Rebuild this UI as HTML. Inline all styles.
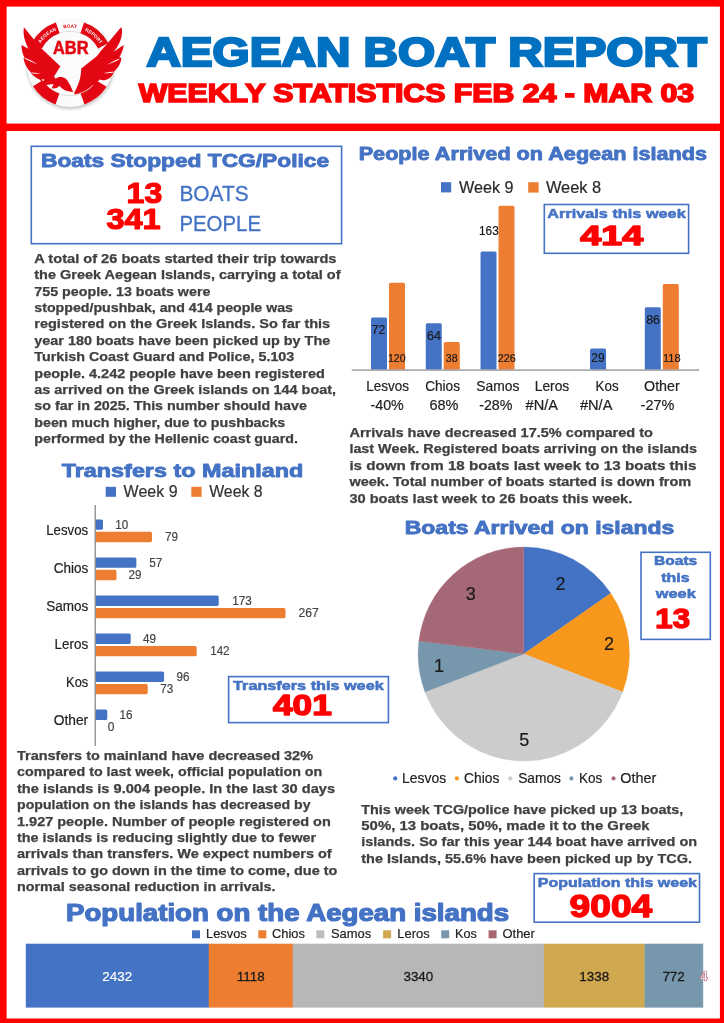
<!DOCTYPE html>
<html><head><meta charset="utf-8"><title>Aegean Boat Report</title><style>
html,body{margin:0;padding:0;background:#fff}
#p{position:relative;width:724px;height:1023px;overflow:hidden;background:#fff;font-family:"Liberation Sans",sans-serif}
#p div{position:absolute}
#p svg{position:absolute;left:0;top:0}
#p text{font-family:"Liberation Sans",sans-serif;white-space:pre}
</style></head><body><div id="p"><svg width="724" height="1023" viewBox="0 0 724 1023" style="position:absolute;left:0;top:0"><rect x="0.00" y="0.00" width="724.00" height="6.60" fill="#ff0000"/><rect x="0.00" y="0.00" width="6.60" height="1023.00" fill="#ff0000"/><rect x="719.90" y="0.00" width="4.10" height="1023.00" fill="#ff0000"/><rect x="0.00" y="1018.50" width="724.00" height="4.50" fill="#ff0000"/><rect x="0.00" y="123.60" width="724.00" height="7.40" fill="#ff0000"/><path d="M371.00,369.60V319.04Q371.00,317.44 372.60,317.44H385.40Q387.00,317.44 387.00,319.04V369.60Z" fill="#4472c4"/><path d="M389.00,369.60V284.26Q389.00,282.66 390.60,282.66H403.40Q405.00,282.66 405.00,284.26V369.60Z" fill="#ed7d31"/><path d="M425.76,369.60V324.83Q425.76,323.23 427.36,323.23H440.16Q441.76,323.23 441.76,324.83V369.60Z" fill="#4472c4"/><path d="M443.76,369.60V343.67Q443.76,342.07 445.36,342.07H458.16Q459.76,342.07 459.76,343.67V369.60Z" fill="#ed7d31"/><path d="M480.52,369.60V253.11Q480.52,251.51 482.12,251.51H494.92Q496.52,251.51 496.52,253.11V369.60Z" fill="#4472c4"/><path d="M498.52,369.60V207.46Q498.52,205.86 500.12,205.86H512.92Q514.52,205.86 514.52,207.46V369.60Z" fill="#ed7d31"/><path d="M590.04,369.60V350.19Q590.04,348.59 591.64,348.59H604.44Q606.04,348.59 606.04,350.19V369.60Z" fill="#4472c4"/><path d="M644.80,369.60V308.89Q644.80,307.29 646.40,307.29H659.20Q660.80,307.29 660.80,308.89V369.60Z" fill="#4472c4"/><path d="M662.80,369.60V285.71Q662.80,284.11 664.40,284.11H677.20Q678.80,284.11 678.80,285.71V369.60Z" fill="#ed7d31"/><rect x="351.70" y="369.50" width="347.50" height="1.10" fill="#7f7f7f"/><rect x="441.00" y="182.20" width="10.20" height="10.20" fill="#4472c4"/><rect x="528.20" y="182.20" width="10.40" height="10.40" fill="#ed7d31"/><path d="M95.60,519.40H101.40Q103.00,519.40 103.00,521.00V528.20Q103.00,529.80 101.40,529.80H95.60Z" fill="#4472c4"/><path d="M95.60,531.80H150.39Q151.99,531.80 151.99,533.40V540.60Q151.99,542.20 150.39,542.20H95.60Z" fill="#ed7d31"/><path d="M95.60,557.44H134.77Q136.37,557.44 136.37,559.04V566.24Q136.37,567.84 134.77,567.84H95.60Z" fill="#4472c4"/><path d="M95.60,569.84H114.89Q116.49,569.84 116.49,571.44V578.64Q116.49,580.24 114.89,580.24H95.60Z" fill="#ed7d31"/><path d="M95.60,595.48H217.13Q218.73,595.48 218.73,597.08V604.28Q218.73,605.88 217.13,605.88H95.60Z" fill="#4472c4"/><path d="M95.60,607.88H283.87Q285.47,607.88 285.47,609.48V616.68Q285.47,618.28 283.87,618.28H95.60Z" fill="#ed7d31"/><path d="M95.60,633.52H129.09Q130.69,633.52 130.69,635.12V642.32Q130.69,643.92 129.09,643.92H95.60Z" fill="#4472c4"/><path d="M95.60,645.92H195.12Q196.72,645.92 196.72,647.52V654.72Q196.72,656.32 195.12,656.32H95.60Z" fill="#ed7d31"/><path d="M95.60,671.56H162.46Q164.06,671.56 164.06,673.16V680.36Q164.06,681.96 162.46,681.96H95.60Z" fill="#4472c4"/><path d="M95.60,683.96H146.13Q147.73,683.96 147.73,685.56V692.76Q147.73,694.36 146.13,694.36H95.60Z" fill="#ed7d31"/><path d="M95.60,709.60H105.66Q107.26,709.60 107.26,711.20V718.40Q107.26,720.00 105.66,720.00H95.60Z" fill="#4472c4"/><rect x="94.60" y="505.00" width="1.20" height="241.00" fill="#7f7f7f"/><rect x="105.70" y="486.80" width="10.30" height="10.00" fill="#4472c4"/><rect x="191.30" y="486.80" width="10.30" height="10.00" fill="#ed7d31"/><rect x="25.80" y="943.70" width="183.19" height="63.90" fill="#4472c4"/><rect x="208.69" y="943.70" width="84.37" height="63.90" fill="#ed7d31"/><rect x="292.76" y="943.70" width="251.47" height="63.90" fill="#b7b7b7"/><rect x="543.93" y="943.70" width="100.92" height="63.90" fill="#d0a850"/><rect x="644.54" y="943.70" width="58.35" height="63.90" fill="#7697ac"/><rect x="702.60" y="943.70" width="0.60" height="63.90" fill="#7697ac"/><rect x="192.00" y="930.30" width="8.00" height="8.00" fill="#4472c4"/><rect x="258.30" y="930.30" width="8.00" height="8.00" fill="#ed7d31"/><rect x="316.30" y="930.30" width="8.00" height="8.00" fill="#bdbdbd"/><rect x="383.10" y="930.30" width="8.00" height="8.00" fill="#d0a850"/><rect x="441.20" y="930.30" width="8.00" height="8.00" fill="#7697ac"/><rect x="488.60" y="930.30" width="8.00" height="8.00" fill="#a8646f"/><rect x="31.30" y="146.30" width="310.30" height="97.40" fill="#fff" stroke="#4472c4" stroke-width="1.6"/><rect x="544.30" y="204.50" width="144.30" height="48.80" fill="#fff" stroke="#4472c4" stroke-width="1.6"/><rect x="228.60" y="676.60" width="159.80" height="46.00" fill="#fff" stroke="#4472c4" stroke-width="1.6"/><rect x="641.00" y="552.30" width="69.30" height="87.10" fill="#fff" stroke="#4472c4" stroke-width="1.6"/><rect x="534.20" y="873.60" width="165.30" height="48.60" fill="#fff" stroke="#4472c4" stroke-width="1.6"/><path d="M523.8,654.0L523.80,547.00A105.7,107.0 0 0 1 610.79,593.22Z" fill="#4472c4" stroke="#4472c4" stroke-width="0.3"/><path d="M523.8,654.0L610.79,593.22A105.7,107.0 0 0 1 622.63,691.94Z" fill="#f7981d" stroke="#f7981d" stroke-width="0.3"/><path d="M523.8,654.0L622.63,691.94A105.7,107.0 0 0 1 424.97,691.94Z" fill="#cccccc" stroke="#cccccc" stroke-width="0.3"/><path d="M523.8,654.0L424.97,691.94A105.7,107.0 0 0 1 418.87,641.10Z" fill="#7697ac" stroke="#7697ac" stroke-width="0.3"/><path d="M523.8,654.0L418.87,641.10A105.7,107.0 0 0 1 523.80,547.00Z" fill="#a56877" stroke="#a56877" stroke-width="0.3"/><circle cx="395.2" cy="778.4" r="2.1" fill="#4472c4"/><circle cx="456.9" cy="778.4" r="2.1" fill="#f7981d"/><circle cx="510.2" cy="778.4" r="2.1" fill="#cccccc"/><circle cx="571.4" cy="778.4" r="2.1" fill="#7697ac"/><circle cx="613.5" cy="778.4" r="2.1" fill="#a56877"/><g opacity="0.999"><defs><filter id="sh" x="-20%" y="-20%" width="140%" height="140%"><feGaussianBlur stdDeviation="1.5"/></filter><path id="arcT" d="M34.20,63.50A35.8,35.8 0 0 1 105.80,63.50"/></defs><circle cx="70.4" cy="65.1" r="44.199999999999996" fill="#000" opacity="0.20" filter="url(#sh)"/><circle cx="70.0" cy="63.5" r="43.4" fill="#fbfbfb"/><circle cx="70.0" cy="63.5" r="32.199999999999996" fill="none" stroke="#d9d9d9" stroke-width="0.9"/><path d="M84.13,22.46A43.4,43.4 0 0 1 108.32,43.12L98.17,48.52A31.9,31.9 0 0 0 80.39,33.34Z" fill="#e30613"/><path d="M106.60,86.82A43.4,43.4 0 0 1 84.49,104.41L80.65,93.57A31.9,31.9 0 0 0 96.90,80.64Z" fill="#e30613"/><path d="M55.51,104.41A43.4,43.4 0 0 1 33.00,86.18L42.80,80.17A31.9,31.9 0 0 0 59.35,93.57Z" fill="#e30613"/><path d="M31.68,43.12A43.4,43.4 0 0 1 55.87,22.46L59.61,33.34A31.9,31.9 0 0 0 41.83,48.52Z" fill="#e30613"/><path d="M23.9,27.2 C23.2,31.5 23.6,36 24.9,40 C25.8,43.2 27,46.2 28.4,48.7 L21.5,45.1 C21.4,47.2 21.6,49.2 22.1,51 C22.6,53.4 23.3,55.5 24.4,57.6 L23.5,58.3 C24.2,63 26.6,68.4 31,72.6 L30.8,72.8 C32,74.4 33.2,75.6 34.6,76.6 C36.2,77.8 37.8,78.8 39.5,79.5 L42.9,82.4 L45.8,84.9 L53.7,84 L51.6,88.3 C53.4,88.5 55.2,88.3 56.6,87.9 C57.8,87.4 58.8,86.6 59.5,85.8 C60.6,87.2 61.8,88.4 63.2,89.2 C64.8,90.2 66.4,90.9 68.2,91.3 C69.8,91.7 71.6,92 73.1,92.1 C72.8,91 72.4,90 71.9,89 C71.2,87 70.2,85 69,83.2 C68,81.4 67,79.8 65.7,78.6 C64.2,77.6 62.4,77 60.7,77 C59.6,77 58.6,77.2 57.8,77.4 C56.8,77.8 56,78.4 55.3,78.6 C54.8,78 54.4,77.2 54.1,76.6 C54.8,75.2 55.6,73.8 56.6,72.4 L60.3,66.2 L41.5,48.6 L33.5,38.9 Z" fill="#e30613"/><path d="M121.2,26.9 C122.2,29.2 122.2,31.6 121.9,33.8 C121.6,37 120.8,40 119.4,42.8 C117.8,46.4 115.8,49.4 113.2,52.1 L123.6,44.9 C123.6,47 123,49.2 122.2,51.1 C121.6,53.4 120.6,55.4 119.4,57.3 L121.5,58 C120.8,63.4 118.2,68.2 114,71.7 C113.4,73.6 112.4,75.2 111.1,76.7 C109.4,78.4 107.4,79.4 105.3,80 C103.4,80.4 101.4,80.2 99.5,79.6 L98.1,81.2 L95.1,85.0 L92.3,85.6 A31.3,31.3 0 0 1 74.6,94.4 L74.2,92.5 C75.4,90.6 76.4,88.7 77.1,86.7 C78.6,83.4 79.8,80 80.4,76.7 C80.8,74 81,71.2 81.3,68.4 L97,56 L100.8,51.1 L109.1,41.4 Z" fill="#e30613"/><path d="M24.2,57.6 C28.6,59.4 33.4,61.8 38,64.5 C33.6,63 29,61 24.8,58.8 Z" fill="#fff"/><path d="M31.2,72.5 L41.2,73.3 C38,73.8 34.6,73.8 32,73.6 Z" fill="#fff"/><path d="M41.4,79.2 L44.6,79.5 L43.2,81.2 Z" fill="#fff"/><path d="M119.6,58.4 C115.4,60 111.2,62 106.9,64.7 C111.4,63.4 115.8,61.6 119,59.6 Z" fill="#fff"/><path d="M113.6,71.4 L103.6,73 C107,73.4 110.4,73.2 112.8,72.8 Z" fill="#fff"/><text font-family="Liberation Sans, sans-serif" font-weight="bold" font-size="4.7" fill="#fff" letter-spacing="0.15"><textPath href="#arcT" startOffset="19%">AEGEAN</textPath></text><text font-family="Liberation Sans, sans-serif" font-weight="bold" font-size="4.7" fill="#e30613" letter-spacing="0.1"><textPath href="#arcT" startOffset="50%" text-anchor="middle">BOAT</textPath></text><text font-family="Liberation Sans, sans-serif" font-weight="bold" font-size="4.7" fill="#fff" letter-spacing="0.15"><textPath href="#arcT" startOffset="63.5%">REPORT</textPath></text></g><text opacity="0.999" x="703.8" y="980.8" font-family="Liberation Sans, sans-serif" font-size="14" font-weight="bold" fill="#fff" stroke="#bf6a7c" stroke-width="0.7" text-anchor="middle">4</text></svg><svg width="724" height="1023" viewBox="0 0 724 1023"><g opacity="0.999"><text y="66" font-size="41.3" fill="#0070c0" font-weight="bold" stroke="#0070c0" stroke-width="2.4" stroke-linejoin="miter" x="146.40" textLength="560.60" lengthAdjust="spacingAndGlyphs">AEGEAN BOAT REPORT</text><text y="102" font-size="25.6" fill="#ff0000" font-weight="bold" stroke="#ff0000" stroke-width="1.6" stroke-linejoin="miter" x="138.80" textLength="555.40" lengthAdjust="spacingAndGlyphs">WEEKLY STATISTICS FEB 24 - MAR 03</text><text y="54" font-size="17.6" fill="#e30613" font-weight="bold" stroke="#e30613" stroke-width="0.5" stroke-linejoin="round" x="53.00" textLength="35.60" lengthAdjust="spacingAndGlyphs">ABR</text><text y="167" font-size="19" fill="#4472c4" font-weight="bold" stroke="#4472c4" stroke-width="0.9" stroke-linejoin="round" x="41.00" textLength="288.10" lengthAdjust="spacingAndGlyphs">Boats Stopped TCG/Police</text><text y="203" font-size="28.8" fill="#ff0000" font-weight="bold" stroke="#ff0000" stroke-width="1.2" stroke-linejoin="round" x="126.60" textLength="35.60" lengthAdjust="spacingAndGlyphs">13</text><text y="229" font-size="29.8" fill="#ff0000" font-weight="bold" stroke="#ff0000" stroke-width="1.2" stroke-linejoin="round" x="106.40" textLength="54.20" lengthAdjust="spacingAndGlyphs">341</text><text y="201" font-size="21.6" fill="#4472c4" stroke="#4472c4" stroke-width="0.3" stroke-linejoin="round" x="179.40" textLength="69.20" lengthAdjust="spacingAndGlyphs">BOATS</text><text y="231" font-size="21.6" fill="#4472c4" stroke="#4472c4" stroke-width="0.3" stroke-linejoin="round" x="179.40" textLength="81.60" lengthAdjust="spacingAndGlyphs">PEOPLE</text><text y="263" font-size="12.4" fill="#404040" font-weight="bold" stroke="#404040" stroke-width="0.25" stroke-linejoin="round" x="34.30" textLength="302.20" lengthAdjust="spacingAndGlyphs">A total of 26 boats started their trip towards</text><text y="279" font-size="12.4" fill="#404040" font-weight="bold" stroke="#404040" stroke-width="0.25" stroke-linejoin="round" x="34.30" textLength="306.20" lengthAdjust="spacingAndGlyphs">the Greek Aegean Islands, carrying a total of</text><text y="296" font-size="12.4" fill="#404040" font-weight="bold" stroke="#404040" stroke-width="0.25" stroke-linejoin="round" x="34.30" textLength="176.10" lengthAdjust="spacingAndGlyphs">755 people. 13 boats were</text><text y="312" font-size="12.4" fill="#404040" font-weight="bold" stroke="#404040" stroke-width="0.25" stroke-linejoin="round" x="34.30" textLength="258.70" lengthAdjust="spacingAndGlyphs">stopped/pushbak, and 414 people was</text><text y="328" font-size="12.4" fill="#404040" font-weight="bold" stroke="#404040" stroke-width="0.25" stroke-linejoin="round" x="34.30" textLength="295.90" lengthAdjust="spacingAndGlyphs">registered on the Greek Islands. So far this</text><text y="345" font-size="12.4" fill="#404040" font-weight="bold" stroke="#404040" stroke-width="0.25" stroke-linejoin="round" x="34.30" textLength="295.90" lengthAdjust="spacingAndGlyphs">year 180 boats have been picked up by The</text><text y="361" font-size="12.4" fill="#404040" font-weight="bold" stroke="#404040" stroke-width="0.25" stroke-linejoin="round" x="34.30" textLength="260.00" lengthAdjust="spacingAndGlyphs">Turkish Coast Guard and Police, 5.103</text><text y="378" font-size="12.4" fill="#404040" font-weight="bold" stroke="#404040" stroke-width="0.25" stroke-linejoin="round" x="34.30" textLength="290.50" lengthAdjust="spacingAndGlyphs">people. 4.242 people have been registered</text><text y="394" font-size="12.4" fill="#404040" font-weight="bold" stroke="#404040" stroke-width="0.25" stroke-linejoin="round" x="34.30" textLength="301.70" lengthAdjust="spacingAndGlyphs">as arrived on the Greek islands on 144 boat,</text><text y="410" font-size="12.4" fill="#404040" font-weight="bold" stroke="#404040" stroke-width="0.25" stroke-linejoin="round" x="34.30" textLength="272.60" lengthAdjust="spacingAndGlyphs">so far in 2025. This number should have</text><text y="427" font-size="12.4" fill="#404040" font-weight="bold" stroke="#404040" stroke-width="0.25" stroke-linejoin="round" x="34.30" textLength="251.00" lengthAdjust="spacingAndGlyphs">been much higher, due to pushbacks</text><text y="443" font-size="12.4" fill="#404040" font-weight="bold" stroke="#404040" stroke-width="0.25" stroke-linejoin="round" x="34.30" textLength="263.60" lengthAdjust="spacingAndGlyphs">performed by the Hellenic coast guard.</text><text y="437" font-size="12.4" fill="#404040" font-weight="bold" stroke="#404040" stroke-width="0.25" stroke-linejoin="round" x="349.40" textLength="303.60" lengthAdjust="spacingAndGlyphs">Arrivals have decreased 17.5% compared to</text><text y="453" font-size="12.4" fill="#404040" font-weight="bold" stroke="#404040" stroke-width="0.25" stroke-linejoin="round" x="349.40" textLength="347.60" lengthAdjust="spacingAndGlyphs">last Week. Registered boats arriving on the islands</text><text y="470" font-size="12.4" fill="#404040" font-weight="bold" stroke="#404040" stroke-width="0.25" stroke-linejoin="round" x="349.40" textLength="347.10" lengthAdjust="spacingAndGlyphs">is down from 18 boats last week to 13 boats this</text><text y="486" font-size="12.4" fill="#404040" font-weight="bold" stroke="#404040" stroke-width="0.25" stroke-linejoin="round" x="349.40" textLength="341.80" lengthAdjust="spacingAndGlyphs">week. Total number of boats started is down from</text><text y="503" font-size="12.4" fill="#404040" font-weight="bold" stroke="#404040" stroke-width="0.25" stroke-linejoin="round" x="349.40" textLength="282.90" lengthAdjust="spacingAndGlyphs">30 boats last week to 26 boats this week.</text><text y="760" font-size="12.4" fill="#404040" font-weight="bold" stroke="#404040" stroke-width="0.25" stroke-linejoin="round" x="17.00" textLength="296.00" lengthAdjust="spacingAndGlyphs">Transfers to mainland have decreased 32%</text><text y="776" font-size="12.4" fill="#404040" font-weight="bold" stroke="#404040" stroke-width="0.25" stroke-linejoin="round" x="17.00" textLength="305.30" lengthAdjust="spacingAndGlyphs">compared to last week, official population on</text><text y="793" font-size="12.4" fill="#404040" font-weight="bold" stroke="#404040" stroke-width="0.25" stroke-linejoin="round" x="17.00" textLength="318.00" lengthAdjust="spacingAndGlyphs">the islands is 9.004 people. In the last 30 days</text><text y="809" font-size="12.4" fill="#404040" font-weight="bold" stroke="#404040" stroke-width="0.25" stroke-linejoin="round" x="17.00" textLength="293.60" lengthAdjust="spacingAndGlyphs">population on the islands has decreased by</text><text y="826" font-size="12.4" fill="#404040" font-weight="bold" stroke="#404040" stroke-width="0.25" stroke-linejoin="round" x="17.00" textLength="313.80" lengthAdjust="spacingAndGlyphs">1.927 people. Number of people registered on</text><text y="842" font-size="12.4" fill="#404040" font-weight="bold" stroke="#404040" stroke-width="0.25" stroke-linejoin="round" x="17.00" textLength="299.20" lengthAdjust="spacingAndGlyphs">the islands is reducing slightly due to fewer</text><text y="858" font-size="12.4" fill="#404040" font-weight="bold" stroke="#404040" stroke-width="0.25" stroke-linejoin="round" x="17.00" textLength="314.70" lengthAdjust="spacingAndGlyphs">arrivals than transfers. We expect numbers of</text><text y="875" font-size="12.4" fill="#404040" font-weight="bold" stroke="#404040" stroke-width="0.25" stroke-linejoin="round" x="17.00" textLength="320.40" lengthAdjust="spacingAndGlyphs">arrivals to go down in the time to come, due to</text><text y="891" font-size="12.4" fill="#404040" font-weight="bold" stroke="#404040" stroke-width="0.25" stroke-linejoin="round" x="17.00" textLength="258.40" lengthAdjust="spacingAndGlyphs">normal seasonal reduction in arrivals.</text><text y="814" font-size="12.4" fill="#404040" font-weight="bold" stroke="#404040" stroke-width="0.25" stroke-linejoin="round" x="361.30" textLength="321.90" lengthAdjust="spacingAndGlyphs">This week TCG/police have picked up 13 boats,</text><text y="830" font-size="12.4" fill="#404040" font-weight="bold" stroke="#404040" stroke-width="0.25" stroke-linejoin="round" x="361.30" textLength="288.30" lengthAdjust="spacingAndGlyphs">50%, 13 boats, 50%, made it to the Greek</text><text y="846" font-size="12.4" fill="#404040" font-weight="bold" stroke="#404040" stroke-width="0.25" stroke-linejoin="round" x="361.30" textLength="335.80" lengthAdjust="spacingAndGlyphs">islands. So far this year 144 boat have arrived on</text><text y="863" font-size="12.4" fill="#404040" font-weight="bold" stroke="#404040" stroke-width="0.25" stroke-linejoin="round" x="361.30" textLength="330.70" lengthAdjust="spacingAndGlyphs">the Islands, 55.6% have been picked up by TCG.</text><text y="160" font-size="18.2" fill="#4472c4" font-weight="bold" stroke="#4472c4" stroke-width="0.85" stroke-linejoin="round" x="358.70" textLength="348.30" lengthAdjust="spacingAndGlyphs">People Arrived on Aegean islands</text><text y="477" font-size="18.6" fill="#4472c4" font-weight="bold" stroke="#4472c4" stroke-width="0.85" stroke-linejoin="round" x="61.80" textLength="241.40" lengthAdjust="spacingAndGlyphs">Transfers to Mainland</text><text y="534" font-size="18.2" fill="#4472c4" font-weight="bold" stroke="#4472c4" stroke-width="0.85" stroke-linejoin="round" x="404.80" textLength="269.40" lengthAdjust="spacingAndGlyphs">Boats Arrived on islands</text><text y="921" font-size="23.7" fill="#4472c4" font-weight="bold" stroke="#4472c4" stroke-width="1.2" stroke-linejoin="round" x="66.00" textLength="443.10" lengthAdjust="spacingAndGlyphs">Population on the Aegean islands</text><text y="218" font-size="13.5" fill="#4472c4" font-weight="bold" stroke="#4472c4" stroke-width="0.55" stroke-linejoin="round" x="547.30" textLength="138.40" lengthAdjust="spacingAndGlyphs">Arrivals this week</text><text y="245" font-size="27.3" fill="#ff0000" font-weight="bold" stroke="#ff0000" stroke-width="1.5" stroke-linejoin="round" x="580.30" textLength="62.90" lengthAdjust="spacingAndGlyphs">414</text><text y="690" font-size="13.3" fill="#4472c4" font-weight="bold" stroke="#4472c4" stroke-width="0.55" stroke-linejoin="round" x="233.10" textLength="150.60" lengthAdjust="spacingAndGlyphs">Transfers this week</text><text y="715" font-size="29.6" fill="#ff0000" font-weight="bold" stroke="#ff0000" stroke-width="1.5" stroke-linejoin="round" x="273.00" textLength="58.80" lengthAdjust="spacingAndGlyphs">401</text><text y="565" font-size="12.9" fill="#4472c4" font-weight="bold" stroke="#4472c4" stroke-width="0.55" stroke-linejoin="round" x="654.10" textLength="43.10" lengthAdjust="spacingAndGlyphs">Boats</text><text y="582" font-size="12.9" fill="#4472c4" font-weight="bold" stroke="#4472c4" stroke-width="0.55" stroke-linejoin="round" x="661.30" textLength="28.30" lengthAdjust="spacingAndGlyphs">this</text><text y="598" font-size="12.9" fill="#4472c4" font-weight="bold" stroke="#4472c4" stroke-width="0.55" stroke-linejoin="round" x="655.80" textLength="40.00" lengthAdjust="spacingAndGlyphs">week</text><text y="628" font-size="27.6" fill="#ff0000" font-weight="bold" stroke="#ff0000" stroke-width="1.4" stroke-linejoin="round" x="655.30" textLength="34.70" lengthAdjust="spacingAndGlyphs">13</text><text y="887" font-size="13.2" fill="#4472c4" font-weight="bold" stroke="#4472c4" stroke-width="0.55" stroke-linejoin="round" x="537.80" textLength="159.20" lengthAdjust="spacingAndGlyphs">Population this week</text><text y="917" font-size="31.1" fill="#ff0000" font-weight="bold" stroke="#ff0000" stroke-width="1.4" stroke-linejoin="round" x="569.60" textLength="82.60" lengthAdjust="spacingAndGlyphs">9004</text><text y="193" font-size="16.5" fill="#2a2a2a" stroke="#2a2a2a" stroke-width="0.2" stroke-linejoin="round" x="459.00" textLength="54.50" lengthAdjust="spacingAndGlyphs">Week 9</text><text y="193" font-size="16.5" fill="#2a2a2a" stroke="#2a2a2a" stroke-width="0.2" stroke-linejoin="round" x="545.90" textLength="55.30" lengthAdjust="spacingAndGlyphs">Week 8</text><text y="391" font-size="14.4" fill="#222" stroke="#222" stroke-width="0.2" stroke-linejoin="round" x="366.30" textLength="42.70" lengthAdjust="spacingAndGlyphs">Lesvos</text><text y="391" font-size="14.4" fill="#222" stroke="#222" stroke-width="0.2" stroke-linejoin="round" x="425.20" textLength="34.80" lengthAdjust="spacingAndGlyphs">Chios</text><text y="391" font-size="14.4" fill="#222" stroke="#222" stroke-width="0.2" stroke-linejoin="round" x="476.30" textLength="43.00" lengthAdjust="spacingAndGlyphs">Samos</text><text y="391" font-size="14.4" fill="#222" stroke="#222" stroke-width="0.2" stroke-linejoin="round" x="534.70" textLength="34.60" lengthAdjust="spacingAndGlyphs">Leros</text><text y="391" font-size="14.4" fill="#222" stroke="#222" stroke-width="0.2" stroke-linejoin="round" x="595.50" textLength="23.10" lengthAdjust="spacingAndGlyphs">Kos</text><text y="391" font-size="14.4" fill="#222" stroke="#222" stroke-width="0.2" stroke-linejoin="round" x="644.00" textLength="35.80" lengthAdjust="spacingAndGlyphs">Other</text><text y="410" font-size="14.5" fill="#222" stroke="#222" stroke-width="0.2" stroke-linejoin="round" x="370.50" textLength="33.30" lengthAdjust="spacingAndGlyphs">-40%</text><text y="410" font-size="14.5" fill="#222" stroke="#222" stroke-width="0.2" stroke-linejoin="round" x="429.50" textLength="29.00" lengthAdjust="spacingAndGlyphs">68%</text><text y="410" font-size="14.5" fill="#222" stroke="#222" stroke-width="0.2" stroke-linejoin="round" x="479.20" textLength="33.30" lengthAdjust="spacingAndGlyphs">-28%</text><text y="410" font-size="14.5" fill="#222" stroke="#222" stroke-width="0.2" stroke-linejoin="round" x="525.60" textLength="32.40" lengthAdjust="spacingAndGlyphs">#N/A</text><text y="410" font-size="14.5" fill="#222" stroke="#222" stroke-width="0.2" stroke-linejoin="round" x="580.00" textLength="32.40" lengthAdjust="spacingAndGlyphs">#N/A</text><text y="410" font-size="14.5" fill="#222" stroke="#222" stroke-width="0.2" stroke-linejoin="round" x="640.60" textLength="33.80" lengthAdjust="spacingAndGlyphs">-27%</text><text y="334" font-size="13" fill="#1a1a1a" stroke="#1a1a1a" stroke-width="0.2" stroke-linejoin="round" x="371.80" textLength="13.60" lengthAdjust="spacingAndGlyphs">72</text><text y="340" font-size="13" fill="#1a1a1a" stroke="#1a1a1a" stroke-width="0.2" stroke-linejoin="round" x="427.00" textLength="13.80" lengthAdjust="spacingAndGlyphs">64</text><text y="235" font-size="13" fill="#1a1a1a" stroke="#1a1a1a" stroke-width="0.2" stroke-linejoin="round" x="479.00" textLength="19.80" lengthAdjust="spacingAndGlyphs">163</text><text y="362" font-size="13" fill="#1a1a1a" stroke="#1a1a1a" stroke-width="0.2" stroke-linejoin="round" x="591.30" textLength="13.20" lengthAdjust="spacingAndGlyphs">29</text><text y="324" font-size="13" fill="#1a1a1a" stroke="#1a1a1a" stroke-width="0.2" stroke-linejoin="round" x="646.20" textLength="13.80" lengthAdjust="spacingAndGlyphs">86</text><text y="362" font-size="11.4" fill="#1a1a1a" stroke="#1a1a1a" stroke-width="0.2" stroke-linejoin="round" x="388.00" textLength="17.60" lengthAdjust="spacingAndGlyphs">120</text><text y="362" font-size="11.4" fill="#1a1a1a" stroke="#1a1a1a" stroke-width="0.2" stroke-linejoin="round" x="445.80" textLength="11.80" lengthAdjust="spacingAndGlyphs">38</text><text y="362" font-size="11.4" fill="#1a1a1a" stroke="#1a1a1a" stroke-width="0.2" stroke-linejoin="round" x="497.80" textLength="18.10" lengthAdjust="spacingAndGlyphs">226</text><text y="362" font-size="11.4" fill="#1a1a1a" stroke="#1a1a1a" stroke-width="0.2" stroke-linejoin="round" x="662.90" textLength="17.70" lengthAdjust="spacingAndGlyphs">118</text><text y="497" font-size="16.2" fill="#333" stroke="#333" stroke-width="0.2" stroke-linejoin="round" x="123.60" textLength="54.00" lengthAdjust="spacingAndGlyphs">Week 9</text><text y="497" font-size="16.2" fill="#333" stroke="#333" stroke-width="0.2" stroke-linejoin="round" x="209.20" textLength="53.40" lengthAdjust="spacingAndGlyphs">Week 8</text><text y="535" font-size="14" fill="#222" stroke="#222" stroke-width="0.2" stroke-linejoin="round" x="46.20" textLength="42.00" lengthAdjust="spacingAndGlyphs">Lesvos</text><text y="573" font-size="14" fill="#222" stroke="#222" stroke-width="0.2" stroke-linejoin="round" x="53.70" textLength="34.50" lengthAdjust="spacingAndGlyphs">Chios</text><text y="611" font-size="14" fill="#222" stroke="#222" stroke-width="0.2" stroke-linejoin="round" x="46.20" textLength="42.00" lengthAdjust="spacingAndGlyphs">Samos</text><text y="649" font-size="14" fill="#222" stroke="#222" stroke-width="0.2" stroke-linejoin="round" x="54.50" textLength="33.70" lengthAdjust="spacingAndGlyphs">Leros</text><text y="687" font-size="14" fill="#222" stroke="#222" stroke-width="0.2" stroke-linejoin="round" x="66.10" textLength="22.10" lengthAdjust="spacingAndGlyphs">Kos</text><text y="725" font-size="14" fill="#222" stroke="#222" stroke-width="0.2" stroke-linejoin="round" x="53.70" textLength="34.50" lengthAdjust="spacingAndGlyphs">Other</text><text y="529" font-size="12.7" fill="#444" stroke="#444" stroke-width="0.2" stroke-linejoin="round" x="115.30" textLength="13.00" lengthAdjust="spacingAndGlyphs">10</text><text y="541" font-size="12.7" fill="#444" stroke="#444" stroke-width="0.2" stroke-linejoin="round" x="165.00" textLength="13.00" lengthAdjust="spacingAndGlyphs">79</text><text y="567" font-size="12.7" fill="#444" stroke="#444" stroke-width="0.2" stroke-linejoin="round" x="149.30" textLength="13.00" lengthAdjust="spacingAndGlyphs">57</text><text y="579" font-size="12.7" fill="#444" stroke="#444" stroke-width="0.2" stroke-linejoin="round" x="128.60" textLength="12.90" lengthAdjust="spacingAndGlyphs">29</text><text y="605" font-size="12.7" fill="#444" stroke="#444" stroke-width="0.2" stroke-linejoin="round" x="232.30" textLength="19.60" lengthAdjust="spacingAndGlyphs">173</text><text y="617" font-size="12.7" fill="#444" stroke="#444" stroke-width="0.2" stroke-linejoin="round" x="298.60" textLength="20.20" lengthAdjust="spacingAndGlyphs">267</text><text y="643" font-size="12.7" fill="#444" stroke="#444" stroke-width="0.2" stroke-linejoin="round" x="142.90" textLength="13.00" lengthAdjust="spacingAndGlyphs">49</text><text y="655" font-size="12.7" fill="#444" stroke="#444" stroke-width="0.2" stroke-linejoin="round" x="210.20" textLength="19.40" lengthAdjust="spacingAndGlyphs">142</text><text y="681" font-size="12.7" fill="#444" stroke="#444" stroke-width="0.2" stroke-linejoin="round" x="176.60" textLength="13.00" lengthAdjust="spacingAndGlyphs">96</text><text y="693" font-size="12.7" fill="#444" stroke="#444" stroke-width="0.2" stroke-linejoin="round" x="160.30" textLength="13.00" lengthAdjust="spacingAndGlyphs">73</text><text y="719" font-size="12.7" fill="#444" stroke="#444" stroke-width="0.2" stroke-linejoin="round" x="119.40" textLength="13.00" lengthAdjust="spacingAndGlyphs">16</text><text y="731" font-size="12.7" fill="#444" stroke="#444" stroke-width="0.2" stroke-linejoin="round" x="107.80" textLength="6.70" lengthAdjust="spacingAndGlyphs">0</text><text y="590" font-size="18" fill="#1a1a1a" stroke="#1a1a1a" stroke-width="0.2" stroke-linejoin="round" x="560.60" text-anchor="middle">2</text><text y="650" font-size="18" fill="#1a1a1a" stroke="#1a1a1a" stroke-width="0.2" stroke-linejoin="round" x="608.90" text-anchor="middle">2</text><text y="746" font-size="18" fill="#1a1a1a" stroke="#1a1a1a" stroke-width="0.2" stroke-linejoin="round" x="524.30" text-anchor="middle">5</text><text y="672" font-size="18" fill="#1a1a1a" stroke="#1a1a1a" stroke-width="0.2" stroke-linejoin="round" x="439.00" text-anchor="middle">1</text><text y="600" font-size="18" fill="#1a1a1a" stroke="#1a1a1a" stroke-width="0.2" stroke-linejoin="round" x="470.80" text-anchor="middle">3</text><text y="783" font-size="14.4" fill="#222" stroke="#222" stroke-width="0.2" stroke-linejoin="round" x="402.00" textLength="44.10" lengthAdjust="spacingAndGlyphs">Lesvos</text><text y="783" font-size="14.4" fill="#222" stroke="#222" stroke-width="0.2" stroke-linejoin="round" x="464.10" textLength="35.20" lengthAdjust="spacingAndGlyphs">Chios</text><text y="783" font-size="14.4" fill="#222" stroke="#222" stroke-width="0.2" stroke-linejoin="round" x="518.20" textLength="42.80" lengthAdjust="spacingAndGlyphs">Samos</text><text y="783" font-size="14.4" fill="#222" stroke="#222" stroke-width="0.2" stroke-linejoin="round" x="579.00" textLength="23.30" lengthAdjust="spacingAndGlyphs">Kos</text><text y="783" font-size="14.4" fill="#222" stroke="#222" stroke-width="0.2" stroke-linejoin="round" x="620.30" textLength="36.00" lengthAdjust="spacingAndGlyphs">Other</text><text y="938" font-size="13.2" fill="#222" stroke="#222" stroke-width="0.2" stroke-linejoin="round" x="206.10" textLength="40.60" lengthAdjust="spacingAndGlyphs">Lesvos</text><text y="938" font-size="13.2" fill="#222" stroke="#222" stroke-width="0.2" stroke-linejoin="round" x="272.00" textLength="32.80" lengthAdjust="spacingAndGlyphs">Chios</text><text y="938" font-size="13.2" fill="#222" stroke="#222" stroke-width="0.2" stroke-linejoin="round" x="331.00" textLength="40.20" lengthAdjust="spacingAndGlyphs">Samos</text><text y="938" font-size="13.2" fill="#222" stroke="#222" stroke-width="0.2" stroke-linejoin="round" x="397.30" textLength="32.30" lengthAdjust="spacingAndGlyphs">Leros</text><text y="938" font-size="13.2" fill="#222" stroke="#222" stroke-width="0.2" stroke-linejoin="round" x="455.00" textLength="21.90" lengthAdjust="spacingAndGlyphs">Kos</text><text y="938" font-size="13.2" fill="#222" stroke="#222" stroke-width="0.2" stroke-linejoin="round" x="502.50" textLength="32.30" lengthAdjust="spacingAndGlyphs">Other</text><text y="981" font-size="13.4" fill="#fff" stroke="#fff" stroke-width="0.2" stroke-linejoin="round" x="117.24" text-anchor="middle">2432</text><text y="981" font-size="13.4" fill="#1a1a1a" stroke="#1a1a1a" stroke-width="0.3" stroke-linejoin="round" x="250.72" text-anchor="middle">1118</text><text y="981" font-size="13.4" fill="#1a1a1a" stroke="#1a1a1a" stroke-width="0.3" stroke-linejoin="round" x="418.34" text-anchor="middle">3340</text><text y="981" font-size="13.4" fill="#1a1a1a" stroke="#1a1a1a" stroke-width="0.3" stroke-linejoin="round" x="594.24" text-anchor="middle">1338</text><text y="981" font-size="13.4" fill="#1a1a1a" stroke="#1a1a1a" stroke-width="0.3" stroke-linejoin="round" x="673.57" text-anchor="middle">772</text></g></svg></div></body></html>
